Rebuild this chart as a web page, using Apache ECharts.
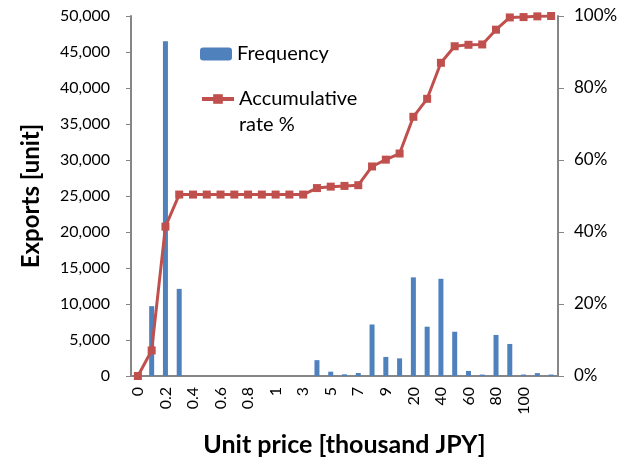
<!DOCTYPE html>
<html><head><meta charset="utf-8">
<script src="https://cdn.jsdelivr.net/npm/echarts@6/dist/echarts.min.js"></script>
<style>html,body{margin:0;padding:0;background:#fff}#c{width:626px;height:462px}</style>
</head><body><div id="c"></div>
<script>
const categories = ['0','0.1','0.2','0.3','0.4','0.5','0.6','0.7','0.8','0.9','1','2','3','4','5','6','7','8','9','10','20','30','40','50','60','70','80','90','100','200','>200'];
const frequency = [0,9700,46500,12100,0,0,0,0,0,0,0,0,0,2200,600,230,420,7150,2650,2450,13700,6850,13500,6150,700,200,5700,4450,200,400,200];
const accumRate = [0,7.1,41.5,50.4,50.4,50.4,50.4,50.4,50.4,50.4,50.4,50.4,50.4,52.2,52.6,52.8,53.0,58.2,60.1,61.8,72.0,77.0,87.0,91.6,92.0,92.1,96.2,99.6,99.7,99.9,100];
const leftTicks = {min:0,max:50000,interval:5000};
const rightTicks = {min:0,max:100,interval:20};

const FONT = 'Lato';
const axisGrey = '#868686';
const chart = echarts.init(document.getElementById('c'), null, {renderer:'canvas'});
chart.setOption({
  animation:false,
  textStyle:{fontFamily:FONT},
  grid:{left:131,right:68,top:16,bottom:86},
  legend:[
    {data:['Frequency'],left:195,top:39,orient:'vertical',itemWidth:32,itemHeight:13,itemGap:0,
     textStyle:{fontFamily:FONT,fontSize:20,color:'#000'}},
    {data:['Accumulative rate %'],left:195,top:55,orient:'vertical',itemWidth:32,itemHeight:12,
     lineStyle:{width:4},
     formatter:()=> '\nAccumulative\nrate %',
     textStyle:{fontFamily:FONT,fontSize:20,color:'#000',lineHeight:26}}
  ],
  xAxis:{
    type:'category',data:categories,boundaryGap:true,
    name:'Unit price [thousand JPY]',nameLocation:'middle',nameGap:56,
    nameTextStyle:{fontFamily:FONT,fontSize:25,fontWeight:'bold',color:'#000'},
    axisLine:{lineStyle:{color:axisGrey,width:2}},
    axisTick:{interval:0,length:5,lineStyle:{color:axisGrey,width:1}},
    axisLabel:{rotate:90,margin:11,fontSize:16,color:'#000',fontFamily:FONT,
      interval:(i)=> i%2===0 && i<=28}
  },
  yAxis:[
    {type:'value',min:leftTicks.min,max:leftTicks.max,interval:leftTicks.interval,
     name:'Exports [unit]',nameLocation:'middle',nameGap:88,
     nameTextStyle:{fontFamily:FONT,fontSize:24,fontWeight:'bold',color:'#000'},
     splitLine:{show:false},
     axisLine:{show:true,lineStyle:{color:axisGrey,width:2}},
     axisTick:{show:true,length:5,lineStyle:{color:axisGrey}},
     axisLabel:{fontSize:16,color:'#000',fontFamily:FONT,margin:21,
       formatter:(v)=> v.toLocaleString('en-US')}},
    {type:'value',min:rightTicks.min,max:rightTicks.max,interval:rightTicks.interval,position:'right',
     splitLine:{show:false},
     axisLine:{show:true,lineStyle:{color:axisGrey,width:2}},
     axisTick:{show:true,length:6,lineStyle:{color:axisGrey}},
     axisLabel:{fontSize:17,color:'#000',fontFamily:FONT,margin:16,formatter:'{value}%'}}
  ],
  series:[
    {name:'Frequency',type:'bar',data:frequency,barWidth:5,yAxisIndex:0,
     itemStyle:{color:'#4F81BD'}},
    {name:'Accumulative rate %',type:'line',data:accumRate,yAxisIndex:1,
     symbol:'rect',symbolSize:8,
     lineStyle:{color:'#C0504D',width:3},itemStyle:{color:'#C0504D'},z:5}
  ]
});
</script></body></html>
